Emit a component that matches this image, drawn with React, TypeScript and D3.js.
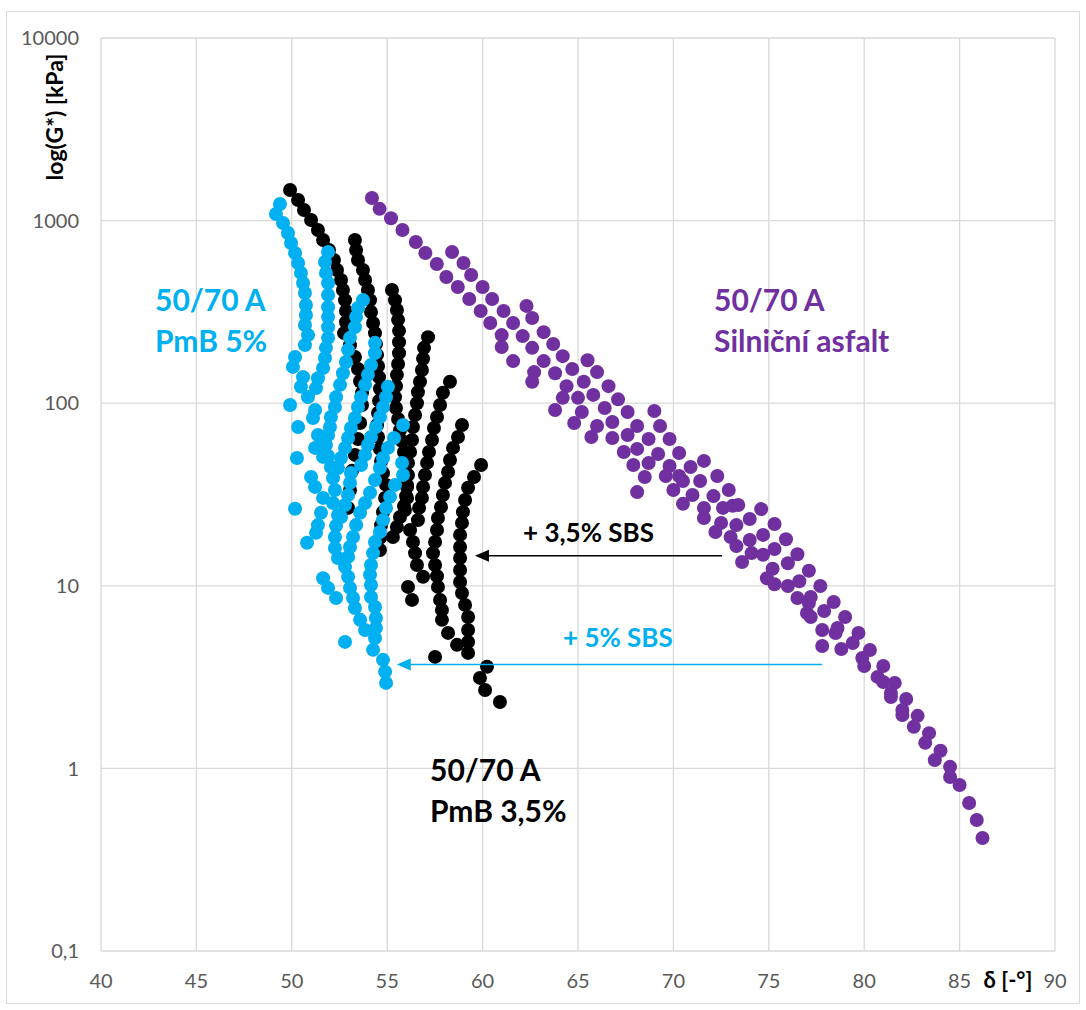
import React from "react";
import * as d3 from "d3";

const W = 1086;
const H = 1010;

const xTicks = [40, 45, 50, 55, 60, 65, 70, 75, 80, 85, 90];
const yTicks = [0.1, 1, 10, 100, 1000, 10000];
const yTickLabels = ["0,1", "1", "10", "100", "1000", "10000"];

// [δ (°), G* (kPa)]
const silnicniAsfalt: [number, number][] = [
  [54.2, 1330], [54.6, 1160], [55.2, 1030], [55.8, 888], [56.5, 763], [57.0, 665], [57.6, 579], [58.1, 491], [58.7, 433], [59.3, 372], [59.9, 320], [60.4, 275], [61.0, 236], [61.0, 203], [61.6, 170],
  [58.4, 673], [59.0, 586], [59.4, 504], [60.0, 433], [60.5, 372], [61.1, 320], [61.6, 275], [62.1, 233], [62.6, 201], [63.2, 170], [62.7, 148], [62.6, 131], [63.8, 146],
  [62.3, 341], [62.6, 293], [63.2, 245], [63.7, 211], [64.2, 181], [64.7, 154], [65.3, 131], [65.8, 111], [66.4, 94.1], [66.8, 78.9],
  [65.5, 172], [66.0, 148], [66.6, 124], [67.1, 105], [67.6, 89.5], [68.1, 75.0], [68.7, 63.7], [69.2, 52.7], [69.8, 45.3], [70.3, 39.9],
  [64.4, 124], [64.2, 107], [63.8, 91.8], [65.0, 107], [65.2, 89.5], [64.8, 77.9], [65.7, 65.3], [66.0, 75.0], [66.8, 64.5], [67.4, 54.0], [67.9, 45.9], [68.5, 39.4], [68.1, 56.2], [68.7, 47.0],
  [69.0, 90.6], [69.3, 75.0], [69.8, 63.7], [70.3, 53.4], [70.9, 44.7], [71.6, 48.3], [67.6, 67.0], [69.6, 39.9], [68.1, 32.6], [70.5, 37.5], [70.0, 33.5], [71.4, 37.5], [72.3, 39.9], [72.9, 33.5],
  [71.0, 31.4], [72.1, 31.0], [70.5, 28.1], [71.6, 26.7], [71.6, 23.5], [72.6, 26.7], [73.1, 27.4], [73.4, 27.7], [72.5, 22.1], [72.2, 19.7], [73.3, 21.5], [73.0, 18.5], [73.3, 16.5],
  [74.0, 23.2], [74.6, 26.3], [74.7, 19.0], [74.0, 17.8], [74.1, 15.1], [73.6, 13.5], [74.7, 14.8], [75.3, 21.8], [75.9, 18.0], [75.3, 15.9], [75.2, 12.4], [74.9, 11.0], [75.3, 10.2],
  [76.0, 13.3], [76.5, 14.9], [76.0, 9.97], [76.6, 10.6], [77.1, 12.1], [76.5, 8.58], [77.2, 8.69], [77.1, 8.05], [77.0, 7.10], [77.2, 6.75], [77.7, 9.97], [77.9, 7.28], [78.4, 8.15],
  [77.8, 5.73], [78.6, 5.87], [78.5, 5.51], [79.0, 6.75], [77.8, 4.68], [78.8, 4.51], [79.4, 4.86], [79.7, 5.51], [80.3, 4.45], [79.9, 4.02], [80.0, 3.64], [81.0, 3.64], [80.7, 3.17],
  [81.0, 2.97], [81.6, 2.94], [81.4, 2.59], [81.4, 2.46], [82.2, 2.40], [82.0, 2.09], [82.0, 1.96], [82.8, 1.94], [82.6, 1.69], [83.4, 1.56], [83.2, 1.38], [84.0, 1.25], [83.7, 1.11],
  [84.5, 1.02], [84.5, 0.897], [85.0, 0.811], [85.5, 0.646], [85.9, 0.522], [86.2, 0.416],
];

const pmb35: [number, number][] = [
  [49.91, 1471], [50.33, 1297], [50.64, 1143], [51.01, 1008], [51.37, 888], [51.64, 783], [51.95, 690], [52.21, 608], [52.37, 536], [52.58, 473], [52.68, 417], [52.79, 367], [52.84, 320], [52.84, 278],
  [52.74, 242], [53.05, 208], [53.31, 179], [53.47, 154], [53.58, 132], [53.68, 114], [53.68, 97.8], [53.58, 77.9], [53.47, 63.7], [53.31, 52.1], [53.16, 42.6], [53.05, 33.5], [52.95, 26.7],
  [53.31, 783], [53.37, 690], [53.47, 608], [53.73, 536], [53.84, 473], [53.99, 417], [54.10, 367], [54.15, 316], [54.26, 275], [54.36, 242], [54.41, 211], [54.47, 184], [54.52, 160], [54.57, 139],
  [54.62, 120], [54.57, 103], [54.52, 88.4], [54.47, 76.0], [54.52, 65.3], [54.62, 56.2], [54.68, 48.3], [54.78, 41.5], [54.94, 35.7], [54.89, 30.3], [54.78, 25.4], [54.68, 21.5], [54.62, 18.3], [54.62, 15.7],
  [55.25, 417], [55.41, 367], [55.51, 324], [55.57, 286], [55.62, 249], [55.62, 216], [55.62, 188], [55.57, 164], [55.51, 143], [55.46, 124], [55.41, 108], [55.46, 94.1], [55.57, 82.0], [55.67, 71.3],
  [55.78, 62.1], [55.88, 54.1], [55.93, 47.1], [55.99, 41.0], [56.04, 35.7], [55.99, 31.0], [55.88, 27.4], [55.67, 23.8], [55.51, 21.0], [55.30, 18.5],
  [57.14, 230], [56.93, 201], [56.88, 175], [56.82, 152], [56.72, 131], [56.61, 115], [56.56, 100], [56.46, 86.2], [56.35, 74.1], [56.30, 62.9], [56.20, 54.1], [56.09, 47.1], [56.09, 40.5],
  [56.04, 34.8], [56.04, 30.3], [55.93, 26.0], [56.20, 20.2], [56.35, 17.4], [56.46, 15.1], [56.56, 13.0], [56.88, 11.2], [56.09, 9.86], [56.30, 8.37],
  [58.29, 131], [57.92, 114], [57.77, 97.8], [57.61, 84.1], [57.45, 73.2], [57.35, 62.9], [57.19, 54.1], [57.09, 47.1], [56.98, 40.5], [56.88, 34.8], [56.82, 30.3], [56.67, 26.7], [56.61, 22.9],
  [58.92, 76.0], [58.71, 65.3], [58.45, 56.9], [58.29, 48.9], [58.19, 42.0], [58.03, 36.6], [57.92, 31.4], [57.82, 27.0], [57.66, 23.5], [57.61, 20.2], [57.51, 17.4], [57.40, 15.1], [57.51, 13.0],
  [57.61, 11.3], [57.66, 9.86], [57.77, 8.37], [57.87, 7.38], [57.87, 6.51], [58.19, 5.52], [58.66, 4.75], [57.51, 4.08],
  [59.92, 45.9], [59.55, 39.4], [59.24, 34.4], [59.08, 29.5], [58.97, 25.4], [58.92, 22.1], [58.82, 19.0], [58.82, 16.3], [58.82, 14.2], [58.82, 12.2], [58.82, 10.5], [58.92, 9.14], [59.08, 7.86],
  [59.24, 6.75], [59.24, 5.73], [59.24, 4.93], [59.24, 4.29],
  [60.23, 3.60], [59.86, 3.13], [60.13, 2.69], [60.91, 2.31],
];

const pmb5: [number, number][] = [
  [49.38, 1233], [49.17, 1087], [49.54, 970], [49.80, 855], [49.96, 754], [50.17, 665], [50.33, 586], [50.48, 517], [50.59, 455], [50.69, 401], [50.74, 345], [50.74, 304], [50.69, 268], [50.85, 236],
  [50.69, 208], [50.17, 179], [50.06, 158], [50.59, 139], [50.48, 123], [50.85, 108], [49.91, 97.8], [51.22, 91.8], [51.11, 83.0], [50.33, 74.1], [51.37, 67.0], [51.64, 62.9], [51.22, 56.9],
  [51.64, 50.8], [50.27, 50.1], [51.01, 39.4], [51.22, 34.8], [51.64, 30.3], [50.17, 26.4], [51.53, 25.1], [51.37, 21.5], [51.27, 19.5], [50.80, 17.2], [51.64, 11.0], [51.90, 9.74], [52.32, 8.58], [52.79, 4.93],
  [51.90, 673], [51.74, 593], [51.79, 517], [51.90, 455], [51.90, 391], [51.90, 336], [51.90, 297], [51.90, 261], [51.90, 228], [51.79, 201], [51.74, 177], [51.64, 156], [51.37, 137], [51.27, 121],
  [53.73, 367], [53.47, 332], [53.37, 297], [53.31, 261], [53.05, 228], [52.95, 196], [52.84, 168], [52.68, 146], [52.53, 126], [52.32, 108], [52.26, 95.4], [52.05, 84.1], [52.00, 74.1], [51.90, 67.0],
  [51.79, 59.1], [51.90, 51.4], [52.05, 44.7], [52.16, 38.9], [52.26, 33.5], [52.16, 28.4], [52.42, 24.4], [52.32, 21.3], [52.26, 18.5], [52.26, 16.1], [52.42, 14.2], [52.79, 12.7], [52.95, 11.2],
  [53.05, 9.74], [53.21, 8.58], [53.31, 7.56], [53.58, 6.51], [53.84, 5.73],
  [54.36, 214], [54.36, 188], [54.15, 162], [53.99, 143], [53.84, 126], [53.63, 108], [53.47, 95.4], [53.31, 83.0], [53.10, 73.2], [52.95, 64.5], [52.79, 56.9], [52.58, 50.1], [52.42, 44.2],
  [55.04, 123], [54.94, 108], [54.78, 95.4], [54.62, 84.1], [54.41, 74.1], [54.15, 65.3], [53.99, 59.1], [53.84, 52.1], [53.63, 45.9], [53.10, 41.5], [53.05, 36.6], [52.95, 31.4], [52.79, 27.7], [52.58, 23.8],
  [55.36, 64.5], [55.04, 56.9], [54.78, 50.1], [54.62, 44.2], [54.36, 38.0], [54.10, 32.3], [53.84, 28.4], [53.58, 25.1], [53.37, 21.5], [53.21, 18.5], [53.05, 16.3], [52.95, 14.4],
  [55.83, 76.0], [55.78, 47.1], [55.83, 40.5], [55.41, 35.7], [55.15, 30.7], [54.94, 26.7], [54.78, 22.9], [54.62, 19.7], [54.36, 17.4], [54.26, 15.1], [54.15, 13.0], [54.10, 11.5], [54.15, 10.1],
  [54.15, 8.69], [54.36, 7.66], [54.41, 6.67], [54.41, 5.88], [54.36, 5.18], [54.26, 4.46], [54.78, 3.93], [54.89, 3.38], [54.94, 2.94],
];

const PURPLE = "#7030A0";
const BLUE = "#00B0F0";
const BLACK = "#000000";
const GRID = "#D9D9D9";
const TICK = "#595959";
const FONT = "Lato, 'Open Sans', sans-serif";

export default function App() {
  const x = d3.scaleLinear().domain([40, 90]).range([101, 1055]);
  const y = d3.scaleLog().domain([0.1, 10000]).range([951, 38]);
  const [x0, x1] = x.range();
  const [y0, y1] = y.range();
  const r = 7;

  // annotation arrows (in data space)
  const blackArrow = { from: 72.55, to: 59.6, g: 14.6 };
  const blueArrow = { from: 77.8, to: 55.5, g: 3.71 };

  const arrow = (a: { from: number; to: number; g: number }, color: string) => {
    const xa = x(a.from);
    const xb = x(a.to);
    const yy = y(a.g);
    return (
      <g>
        <line x1={xa} y1={yy} x2={xb + 12} y2={yy} stroke={color} strokeWidth={1.5} />
        <path d={`M${xb},${yy} L${xb + 14},${yy - 6} L${xb + 14},${yy + 6} Z`} fill={color} />
      </g>
    );
  };

  return (
    <div style={{ position: "absolute", left: 0, top: 0 }}>
      <svg width={W} height={H} style={{ display: "block", background: "#fff" }}>
        <rect x={0} y={0} width={W} height={H} fill="#fff" />
        <rect x={6.5} y={11.5} width={1073} height={992} fill="none" stroke={GRID} strokeWidth={1} />
        {xTicks.map((t) => (
          <line key={"gx" + t} x1={x(t)} x2={x(t)} y1={y1} y2={y0} stroke={GRID} strokeWidth={1.3} />
        ))}
        {yTicks.map((t) => (
          <line key={"gy" + t} x1={x0} x2={x1} y1={y(t)} y2={y(t)} stroke={GRID} strokeWidth={1.3} />
        ))}
        {yTicks.map((t, i) => (
          <text key={"ty" + t} x={79} y={y(t)} dy="0.36em" textAnchor="end" fontFamily={FONT} fontSize={20} fill={TICK}>
            {yTickLabels[i]}
          </text>
        ))}
        {xTicks.map((t) => (
          <text key={"tx" + t} x={x(t)} y={988} textAnchor="middle" fontFamily={FONT} fontSize={20} fill={TICK}>
            {String(t)}
          </text>
        ))}
        <text x={1008} y={988} textAnchor="middle" fontFamily={FONT} fontSize={22} fontWeight="bold" fill="#000">
          δ [-°]
        </text>
        <text
          transform={`translate(63,117) rotate(-90)`}
          textAnchor="middle"
          fontFamily={FONT}
          fontSize={23}
          fontWeight="bold"
          fill="#000"
        >
          log(G*) [kPa]
        </text>

        {silnicniAsfalt.map((d, i) => (
          <circle key={"p" + i} cx={x(d[0])} cy={y(d[1])} r={r} fill={PURPLE} />
        ))}
        {pmb35.map((d, i) => (
          <circle key={"k" + i} cx={x(d[0])} cy={y(d[1])} r={r} fill={BLACK} />
        ))}
        {pmb5.map((d, i) => (
          <circle key={"b" + i} cx={x(d[0])} cy={y(d[1])} r={r} fill={BLUE} />
        ))}

        {arrow(blackArrow, BLACK)}
        {arrow(blueArrow, BLUE)}

        <text x={523} y={542} fontFamily={FONT} fontSize={26} fontWeight="bold" fill={BLACK}>+ 3,5% SBS</text>
        <text x={563} y={647} fontFamily={FONT} fontSize={26} fontWeight="bold" fill={BLUE}>+ 5% SBS</text>

        <g fontFamily={FONT} fontSize={30} fontWeight="bold">
          <text x={155} y={311} fill={BLUE}>50/70 A</text>
          <text x={155} y={352} fill={BLUE}>PmB 5%</text>
          <text x={714} y={311} fill={PURPLE}>50/70 A</text>
          <text x={714} y={352} fill={PURPLE}>Silniční asfalt</text>
          <text x={430} y={781} fill={BLACK}>50/70 A</text>
          <text x={430} y={822} fill={BLACK}>PmB 3,5%</text>
        </g>
      </svg>
    </div>
  );
}
